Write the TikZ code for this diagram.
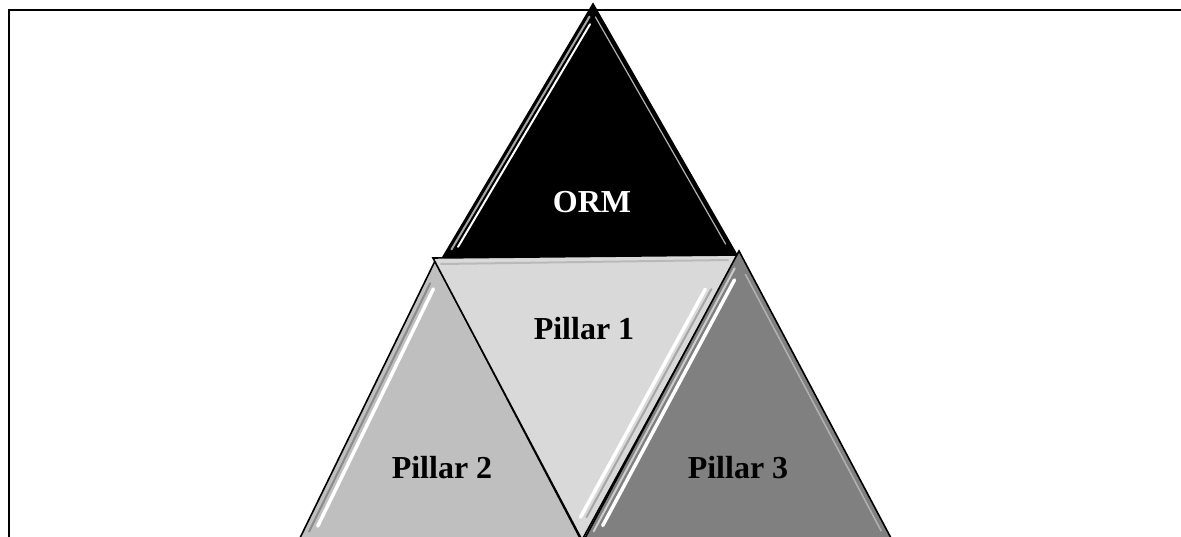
\documentclass[tikz,border=0pt]{standalone}
\usepackage{fontspec}
\setmainfont{Liberation Serif}
\usetikzlibrary{calc}
\definecolor{pone}{HTML}{D9D9D9}
\definecolor{ptwo}{HTML}{BFBFBF}
\definecolor{pthree}{HTML}{808080}
\tikzset{
  tri/.style={draw=black, line width=1.6pt, line join=miter},
  lbl/.style={font=\fontsize{32}{38}\selectfont\bfseries, inner sep=0pt},
  shine/.style={white, line width=3.5pt, line cap=round},
  dull/.style={line width=2pt, line cap=round},
  frameline/.style={draw=black, line width=2.6pt}
}
\begin{document}
\begin{tikzpicture}[x=1pt,y=-1pt]
\useasboundingbox (0,0) rectangle (1181,537);
\clip (0,0) rectangle (1181,537);
% corner points
\coordinate (oA) at (593,4);
\coordinate (oL) at (443,257);
\coordinate (oR) at (738,257);
\coordinate (aL) at (433,258);
\coordinate (aR) at (738,255);
\coordinate (aB) at (582,540);
\coordinate (bA) at (435,261);
\coordinate (bL) at (299,540);
\coordinate (bR) at (581,540);
\coordinate (cA) at (739,251);
\coordinate (cL) at (584,540);
\coordinate (cR) at (892,540);
% frame
\coordinate (f1) at (9,540);
\coordinate (f2) at (9,10);
\coordinate (f3) at (1185,10);
\draw[frameline] (f1) -- (f2) -- (f3);
% ORM
\fill[black] (oA) -- (oL) -- (oR) -- cycle;
\draw[gray!70, dull] ($(oA)!0.05!(oL)+(4,0)$) -- ($(oA)!0.97!(oL)+(4,0)$);
\draw[shine, line width=2pt] ($(oA)!0.08!(oL)+(9,0)$) -- ($(oA)!0.96!(oL)+(9,0)$);
\draw[gray!60, line width=1.2pt] ($(oA)!0.05!(oR)+(-5,0)$) -- ($(oA)!0.95!(oR)+(-5,0)$);
\draw[tri] (oA) -- (oL) -- (oR) -- cycle;
% Pillar 2
\fill[ptwo] (bA) -- (bL) -- (bR) -- cycle;
\draw[gray!90, dull] ($(bA)!0.08!(bL)+(6,0)$) -- ($(bA)!0.97!(bL)+(6,0)$);
\draw[shine] ($(bA)!0.10!(bL)+(12,0)$) -- ($(bA)!0.95!(bL)+(12,0)$);
\draw[tri] (bA) -- (bL) -- (bR) -- cycle;
% Pillar 1
\fill[pone] (aL) -- (aR) -- (aB) -- cycle;
\draw[gray!55, dull] ($(aL)+(8,6)$) -- ($(aR)+(-10,5)$);
\draw[shine] ($(aR)!0.12!(aB)+(-14,0)$) -- ($(aR)!0.92!(aB)+(-14,0)$);
\draw[gray!70, dull] ($(aR)!0.12!(aB)+(-8,0)$) -- ($(aR)!0.92!(aB)+(-8,0)$);
\draw[tri] (aL) -- (aR) -- (aB) -- cycle;
% Pillar 3
\fill[pthree] (cA) -- (cL) -- (cR) -- cycle;
\draw[gray!40, dull] ($(cA)!0.06!(cL)+(5,0)$) -- ($(cA)!0.97!(cL)+(5,0)$);
\draw[shine] ($(cA)!0.10!(cL)+(11,0)$) -- ($(cA)!0.95!(cL)+(11,0)$);
\draw[gray!60, line width=1.5pt] ($(cA)!0.08!(cR)+(-6,0)$) -- ($(cA)!0.97!(cR)+(-6,0)$);
\draw[tri] (cA) -- (cL) -- (cR) -- cycle;
% labels
\node[lbl, text=white] (orm) at (592,202) {ORM};
\node[lbl] (p1) at (584,329) {Pillar 1};
\node[lbl] (p2) at (442,468) {Pillar 2};
\node[lbl] (p3) at (738,468) {Pillar 3};
\end{tikzpicture}
\end{document}
